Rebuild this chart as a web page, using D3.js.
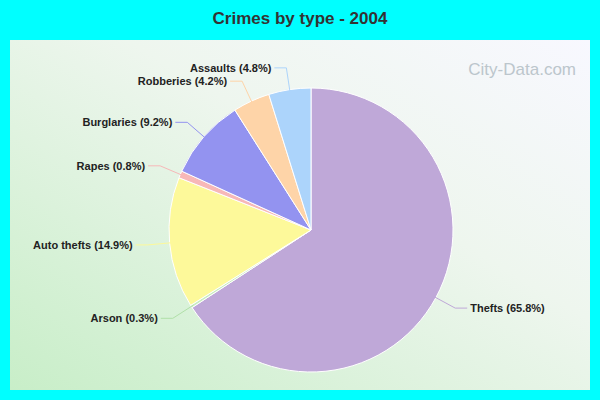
<!DOCTYPE html>
<html><head><meta charset="utf-8">
<script src="https://cdn.jsdelivr.net/npm/d3@7"></script>
<style>body{margin:0;background:#00ffff}</style>
</head><body>
<script>
const categories = ['Thefts', 'Arson', 'Auto thefts', 'Rapes', 'Burglaries', 'Robberies', 'Assaults']
const values = [65.8, 0.3, 14.9, 0.8, 9.2, 4.2, 4.8]
const colors = ['#bfa8d8', '#c8ecc0', '#fdf99a', '#f7b8b8', '#9393f0', '#fed4a8', '#acd4fb']

const width = 600, height = 400
const cx = 311, cy = 230, r = 142

const svg = d3.select('body').append('svg').attr('width', width).attr('height', height)

//Fond du panneau
const defs = svg.append('defs')
const grad = defs.append('linearGradient').attr('id', 'bg').attr('x1', 0).attr('y1', 1).attr('x2', 1).attr('y2', 0)
grad.append('stop').attr('offset', '0%').attr('stop-color', '#c8eec8')
grad.append('stop').attr('offset', '60%').attr('stop-color', '#eef6ee')
grad.append('stop').attr('offset', '100%').attr('stop-color', '#f8f8ff')
svg.append('rect').attr('x', 10).attr('y', 40).attr('width', 580).attr('height', 350).attr('fill', 'url(#bg)')

svg.append('text').text('Crimes by type - 2004').attr('x', 300).attr('y', 24)
    .attr('text-anchor', 'middle').attr('font-family', 'Helvetica, Arial, sans-serif')
    .attr('font-weight', 'bold').attr('font-size', 17).attr('fill', '#333')

svg.append('text').text('City-Data.com').attr('x', 576).attr('y', 75).attr('text-anchor', 'end')
    .attr('font-family', 'Arial, sans-serif').attr('font-size', 17).attr('fill', '#bcc6cc')

const pie = d3.pie().sort(null).value(d => d)
const arcs = pie(values)
const arc = d3.arc().innerRadius(0).outerRadius(r)
const g = svg.append('g').attr('transform', `translate(${cx},${cy})`)

g.selectAll('path').data(arcs).join('path')
    .attr('d', arc).attr('fill', (d, i) => colors[i]).attr('stroke', 'white').attr('stroke-width', 1)

const pt = (a, rad) => [rad * Math.sin(a), -rad * Math.cos(a)]
arcs.forEach((d, i) => {
    const a = (d.startAngle + d.endAngle) / 2
    const p0 = pt(a, r - 2), p1 = pt(a, r + 22)
    const side = Math.sin(a) >= 0 ? 1 : -1
    const p2 = [p1[0] + side * 12, p1[1]]
    g.append('polyline').attr('points', [p0, p1, p2].map(p => p.join(',')).join(' '))
        .attr('fill', 'none').attr('stroke', colors[i] === '#c8ecc0' ? '#b0e0a8' : colors[i]).attr('stroke-width', 1)
    g.append('text').text(`${categories[i]} (${values[i]}%)`)
        .attr('x', p2[0] + side * 3).attr('y', p2[1] + 4)
        .attr('text-anchor', side > 0 ? 'start' : 'end')
        .attr('font-family', 'Helvetica, Arial, sans-serif').attr('font-weight', 'bold')
        .attr('font-size', 11).attr('fill', '#222')
})
</script>
</body></html>
